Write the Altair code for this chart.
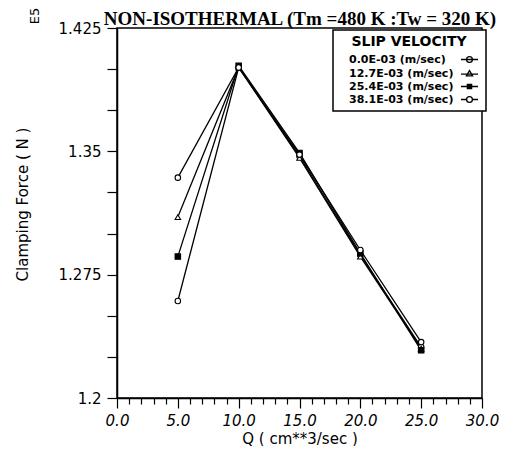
import altair as alt
import pandas as pd

# ---- data ----
q_values = [5, 10, 15, 20, 25]
series_names = ["0.0E-03 (m/sec)", "12.7E-03 (m/sec)", "25.4E-03 (m/sec)", "38.1E-03 (m/sec)"]
force_000 = [1.334, 1.401, 1.347, 1.287, 1.231]
force_127 = [1.310, 1.401, 1.346, 1.286, 1.230]
force_254 = [1.286, 1.402, 1.349, 1.288, 1.229]
force_381 = [1.259, 1.401, 1.348, 1.290, 1.234]

x_ticks = list(range(0, 31))
y_ticks = [1.2, 1.225, 1.25, 1.275, 1.3, 1.325, 1.35, 1.375, 1.4, 1.425]

title_text = "NON-ISOTHERMAL (Tm =480 K :Tw = 320 K)"
exp_text = "E5"

all_series = [force_000, force_127, force_254, force_381]
rows = []
for name, vals in zip(series_names, all_series):
    for qv, fv in zip(q_values, vals):
        rows.append({"Q": qv, "F": fv, "series": name})
df = pd.DataFrame(rows)

marker_shapes = ["circle", "triangle-up", "square", "circle"]
marker_fills = ["white", "white", "black", "white"]
legend_paths = [
    "M-2.2,0L2.2,0M0.75,0A0.75,0.75,0,1,1,-0.75,0A0.75,0.75,0,1,1,0.75,0Z",
    "M-2.2,0.15L2.2,0.15M0,-0.75L0.8,0.6L-0.8,0.6Z",
    "M-2.2,0L2.2,0M-0.55,-0.55L0.55,-0.55L0.55,0.55L-0.55,0.55ZM-0.25,-0.25L0.25,-0.25L0.25,0.25L-0.25,0.25Z",
    "M-2.2,0L-0.75,0M0.75,0L2.2,0M0.75,0A0.75,0.75,0,1,1,-0.75,0A0.75,0.75,0,1,1,0.75,0Z",
]

x_enc = alt.X(
    "Q:Q",
    scale=alt.Scale(domain=[0, 30], nice=False),
    axis=alt.Axis(
        values=x_ticks,
        labelExpr="datum.value % 5 === 0 ? format(datum.value, '.1f') : ''",
        tickSize={"condition": {"test": "datum.value % 5 === 0", "value": 10}, "value": 6},
        labelFont="DejaVu Sans",
        labelFontSize=15,
        labelFontStyle="italic",
        labelPadding=5,
        labelOverlap=False,
        labelFlush=False,
        title="Q ( cm**3/sec )",
        titleFont="DejaVu Sans",
        titleFontSize=15,
        titleFontWeight="normal",
        titleY=40,
        titleBaseline="middle",
    ),
)
y_enc = alt.Y(
    "F:Q",
    scale=alt.Scale(domain=[1.2, 1.425], nice=False, zero=False),
    axis=alt.Axis(
        values=y_ticks,
        labelExpr="abs((datum.value - 1.2) / 0.075 - round((datum.value - 1.2) / 0.075)) < 0.01 ? format(datum.value, '~g') : ''",
        tickSize=10,
        labelFont="DejaVu Sans",
        labelFontSize=15,
        labelPadding=6,
        labelOverlap=False,
        labelFlush=False,
        title="Clamping Force ( N )",
        titleFont="DejaVu Sans",
        titleFontSize=15,
        titleFontWeight="normal",
        titleX=-95,
        titleY=176,
        titleAngle=270,
        titleAlign="center",
        titleBaseline="middle",
    ),
)

base = alt.Chart(df)

lines = base.mark_line(color="black", strokeWidth=1.3).encode(
    x=x_enc, y=y_enc, detail="series:N"
)

markers = base.mark_point(filled=True, stroke="black", strokeWidth=1.1, size=30, opacity=1).encode(
    x=x_enc,
    y=y_enc,
    shape=alt.Shape("series:N", scale=alt.Scale(domain=series_names, range=marker_shapes), legend=None),
    fill=alt.Fill("series:N", scale=alt.Scale(domain=series_names, range=marker_fills), legend=None),
)

legend_layer = base.mark_point(filled=False, color="black", opacity=0, size=60).encode(
    x=x_enc,
    y=y_enc,
    shape=alt.Shape(
        "series:N",
        scale=alt.Scale(domain=series_names, range=legend_paths),
        legend=alt.Legend(
            title="SLIP VELOCITY",
            orient="none",
            legendX=216,
            legendY=2,
            titleFont="DejaVu Sans",
            titleFontSize=14,
            titleFontWeight="bold",
            titleColor="black",
            titleAnchor="middle",
            titlePadding=5,
            labelFont="DejaVu Sans",
            labelFontSize=11,
            labelFontWeight="bold",
            labelColor="black",
            labelOffset={"expr": "-126"},
            labelLimit=200,
            symbolOffset=126,
            symbolSize=60,
            symbolStrokeWidth=1.3,
            symbolStrokeColor="black",
            symbolFillColor="transparent",
            symbolOpacity=1,
            padding=5,
            rowPadding=1,
            strokeColor="black",
            fillColor="white",
        ),
    ),
)

e5 = alt.Chart(pd.DataFrame({"t": [exp_text]})).mark_text(
    angle=270, font="DejaVu Sans", fontSize=13, color="black", baseline="middle", align="center"
).encode(x=alt.value(-82), y=alt.value(-12), text="t:N")

title_mark = alt.Chart(pd.DataFrame({"t": [title_text]})).mark_text(
    font="Liberation Serif", fontSize=19, fontWeight="bold", color="black",
    baseline="alphabetic", align="center"
).encode(x=alt.value(183), y=alt.value(-3), text="t:N")

chart = (
    alt.layer(lines, markers, legend_layer, e5, title_mark)
    .resolve_scale(shape="independent", fill="independent")
    .properties(
        width=365,
        height=370,
        autosize=alt.AutoSizeParams(type="none"),
        padding={"left": 109, "top": 20, "right": 20, "bottom": 48},
    )
    .configure_view(stroke="black", strokeWidth=1.5)
    .configure_axis(
        grid=False,
        domainColor="black",
        domainWidth=1.5,
        tickColor="black",
        tickWidth=1.2,
        labelColor="black",
        titleColor="black",
    )
    .configure_legend(strokeWidth=1.5)
)

chart.save("out.html", embed_options={"renderer": "svg", "actions": False})
